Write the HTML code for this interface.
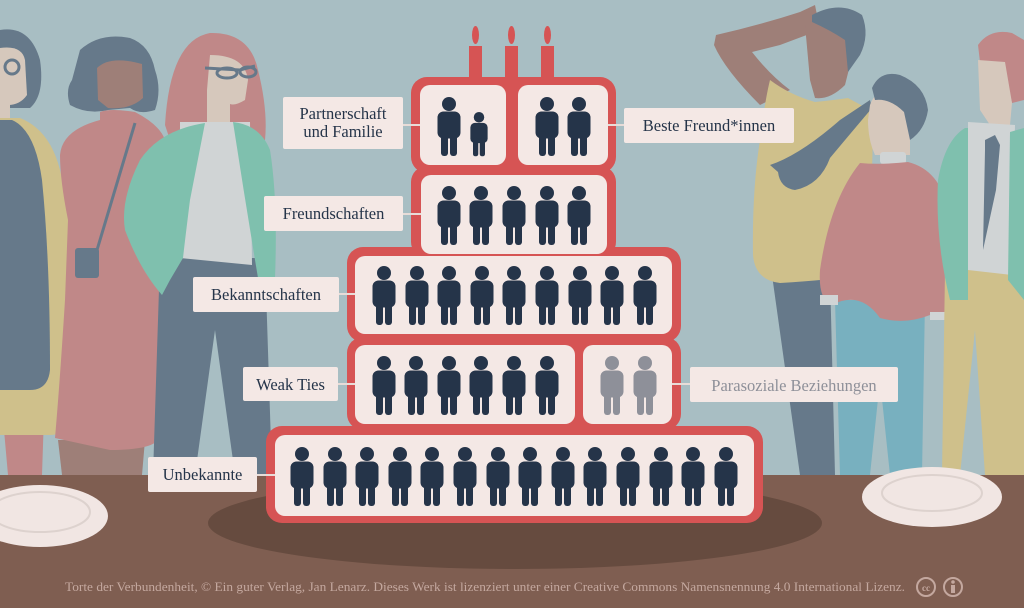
<!DOCTYPE html>
<html><head><meta charset="utf-8"><style>
html,body{margin:0;padding:0;width:1024px;height:608px;overflow:hidden;background:#a8bec3}
svg{display:block}
text{font-family:"Liberation Serif",serif}
</style></head><body>
<svg width="1024" height="608" viewBox="0 0 1024 608" xmlns="http://www.w3.org/2000/svg">
<defs>
<g id="p">
<circle cx="0" cy="-21" r="7"/>
<rect x="-11.5" y="-13.5" width="23" height="27" rx="6"/>
<rect x="-8" y="6" width="7" height="25" rx="3"/>
<rect x="1" y="6" width="7" height="25" rx="3"/>
</g>
</defs>
<rect width="1024" height="608" fill="#a8bec3"/>

<!-- LEFT PEOPLE -->
<!-- person 1 -->
<path d="M0,30 Q30,25 40,60 Q45,95 30,108 L0,108Z" fill="#66798a"/>
<path d="M0,48 Q22,45 25,60 L27,95 Q20,105 8,105 L0,105Z" fill="#d6c8bc"/>
<rect x="0" y="98" width="10" height="25" fill="#d6c8bc"/>
<circle cx="12" cy="67" r="7" fill="none" stroke="#66798a" stroke-width="3"/>
<path d="M0,385 L45,385 L42,475 L8,475Z" fill="#c08888"/>
<path d="M68,210 Q80,260 82,310 Q85,335 78,340 L72,330 L66,215Z" fill="#d6c8bc"/>
<path d="M0,118 L20,118 Q50,130 60,170 Q70,210 70,260 L72,420 Q65,435 50,435 L0,435Z" fill="#cfc08b"/>
<path d="M0,120 L12,120 Q35,130 42,180 Q50,260 50,370 Q48,390 30,390 L0,390Z" fill="#66798a"/>
<!-- person 2 -->
<path d="M58,440 L145,440 L142,475 L62,475Z" fill="#9e7f78"/>
<path d="M100,112 Q110,108 135,112 Q160,125 165,140 L160,250 L158,440 Q150,450 110,450 L55,438 Q60,380 65,300 L68,220 Q60,180 60,155 Q62,130 100,120Z" fill="#c08888"/>
<path d="M80,50 Q100,32 130,38 Q150,45 155,70 Q162,90 155,110 Q140,115 130,108 L108,110 Q88,115 70,105 Q65,90 72,80Z" fill="#66798a"/>
<path d="M97,68 Q110,55 142,64 L143,98 Q130,110 108,108 L98,100Z" fill="#9e7f78"/>
<line x1="135" y1="123" x2="97" y2="250" stroke="#66798a" stroke-width="3"/>
<rect x="75" y="248" width="24" height="30" rx="3" fill="#66798a"/>
<!-- person 3 -->
<path d="M160,258 L265,258 L272,475 L235,475 L215,330 L195,475 L153,475Z" fill="#66798a"/>
<path d="M165,125 Q170,40 210,33 Q250,32 258,70 Q268,110 265,140 L170,140Z" fill="#c08888"/>
<path d="M210,55 Q245,55 248,80 L245,100 Q235,106 230,104 L230,125 L207,125 L207,90Z" fill="#d6c8bc"/>
<path d="M180,122 L250,122 L252,265 L180,258Z" fill="#d0d4d5"/>
<path d="M205,123 L190,200 Q185,240 183,258 L170,280 L162,295 Q140,270 125,230 Q120,200 140,160 Q160,130 205,123Z" fill="#7fc0ae"/>
<path d="M233,122 Q260,125 270,150 Q278,200 275,278 L258,278 Q245,200 233,122Z" fill="#7fc0ae"/>
<path d="M205,68 L240,70 L255,66" fill="none" stroke="#66798a" stroke-width="3"/>
<ellipse cx="227" cy="73" rx="10" ry="5" fill="none" stroke="#66798a" stroke-width="3"/>
<ellipse cx="248" cy="72" rx="8" ry="5" fill="none" stroke="#66798a" stroke-width="3"/>

<!-- RIGHT PEOPLE -->
<!-- person A -->
<path d="M772,275 L830,275 L835,475 L800,475Z" fill="#66798a"/>
<path d="M716,35 Q760,25 800,12 L815,5 L820,30 L780,45 L752,52 Q770,75 790,90 L760,105 Q725,70 714,45Z" fill="#9e7f78"/>
<path d="M805,25 Q830,8 850,25 L850,65 L845,85 Q830,100 815,98 L810,80Z" fill="#9e7f78"/>
<path d="M812,15 Q840,0 862,15 Q870,35 860,55 L848,72 L845,40 Q830,30 812,22Z" fill="#66798a"/>
<path d="M770,80 Q790,95 815,102 Q835,100 848,98 L870,110 Q875,140 870,200 L860,275 Q830,280 780,283 Q755,280 753,255 Q752,190 760,140 Q765,100 770,80Z" fill="#cfc08b"/>
<path d="M770,165 Q800,155 840,120 L870,100 L872,108 Q845,140 830,158 Q820,185 795,190 Q780,188 778,172Z" fill="#66798a"/>
<!-- person B -->
<path d="M835,300 L925,300 L922,475 L890,475 L880,380 L870,475 L840,475Z" fill="#78b0bf"/>
<path d="M870,105 Q875,90 890,92 L910,100 L910,155 L875,155 Q868,140 868,120Z" fill="#d6c8bc"/>
<path d="M872,88 Q880,70 900,75 Q925,85 928,110 Q925,130 910,140 L904,112 Q890,98 875,100Z" fill="#66798a"/>
<rect x="880" y="152" width="26" height="12" rx="3" fill="#d0d4d5"/>
<path d="M860,163 Q880,165 908,162 Q940,170 948,210 Q955,260 955,310 L930,315 Q905,325 880,318 Q860,290 832,305 Q818,300 820,270 Q830,200 860,163Z" fill="#c08888"/>
<rect x="820" y="295" width="18" height="10" fill="#d0d4d5"/>
<rect x="930" y="312" width="22" height="8" fill="#d0d4d5"/>
<!-- person C -->
<path d="M945,270 L1024,270 L1024,475 L985,475 L975,330 L960,475 L942,475Z" fill="#cfc08b"/>
<path d="M978,45 Q990,28 1012,33 L1024,40 L1024,100 L1012,103 L1005,70 Q990,62 980,62Z" fill="#c08888"/>
<path d="M978,60 L1005,62 L1012,103 L1010,125 L990,125 L980,110Z" fill="#d6c8bc"/>
<path d="M968,122 L1015,125 L1012,275 L968,270Z" fill="#d0d4d5"/>
<path d="M985,140 L995,135 L1000,145 L996,190 L983,250 L985,150Z" fill="#66798a"/>
<path d="M965,128 Q945,140 938,180 Q935,240 950,300 L968,300 L968,128Z" fill="#7fc0ae"/>
<path d="M1010,132 L1024,128 L1024,300 L1008,280Z" fill="#7fc0ae"/>

<!-- TABLE -->
<rect x="0" y="475" width="1024" height="133" fill="#7f5e51"/>
<ellipse cx="515" cy="523" rx="307" ry="46" fill="#664b3f"/>
<ellipse cx="40" cy="516" rx="68" ry="31" fill="#f1e6e3"/>
<ellipse cx="40" cy="512" rx="50" ry="20" fill="none" stroke="#ddd2ce" stroke-width="2"/>
<ellipse cx="932" cy="497" rx="70" ry="30" fill="#f1e6e3"/>
<ellipse cx="932" cy="493" rx="50" ry="18" fill="none" stroke="#ddd2ce" stroke-width="2"/>

<!-- CANDLES -->
<g fill="#d65454">
<rect x="469" y="46" width="13" height="35"/><ellipse cx="475.5" cy="35" rx="3.5" ry="9"/>
<rect x="505" y="46" width="13" height="35"/><ellipse cx="511.5" cy="35" rx="3.5" ry="9"/>
<rect x="541" y="46" width="13" height="35"/><ellipse cx="547.5" cy="35" rx="3.5" ry="9"/>
</g>

<!-- CAKE TIERS -->
<g fill="#d65454">
<rect x="411" y="77" width="205" height="96" rx="16"/>
<rect x="411" y="166" width="205" height="92" rx="16"/>
<rect x="347" y="247" width="334" height="95" rx="16"/>
<rect x="347" y="337" width="334" height="93" rx="16"/>
<rect x="266" y="426" width="497" height="97" rx="16"/>
</g>
<g fill="#f4e8e5">
<rect x="420" y="85" width="86" height="80" rx="10"/>
<rect x="518" y="85" width="90" height="80" rx="10"/>
<rect x="421" y="175" width="186" height="79" rx="10"/>
<rect x="355" y="256" width="317" height="78" rx="10"/>
<rect x="355" y="345" width="220" height="79" rx="10"/>
<rect x="583" y="345" width="89" height="79" rx="10"/>
<rect x="275" y="435" width="479" height="81" rx="10"/>
</g>

<!-- FIGURES -->
<g fill="#253449">
<use href="#p" x="449" y="125"/>
<use href="#p" transform="translate(479,133) scale(0.75)"/>
<use href="#p" x="547" y="125"/>
<use href="#p" x="579" y="125"/>
<use href="#p" x="449" y="214"/><use href="#p" x="481" y="214"/><use href="#p" x="514" y="214"/><use href="#p" x="547" y="214"/><use href="#p" x="579" y="214"/>
<use href="#p" x="384" y="294"/><use href="#p" x="417" y="294"/><use href="#p" x="449" y="294"/><use href="#p" x="482" y="294"/><use href="#p" x="514" y="294"/><use href="#p" x="547" y="294"/><use href="#p" x="580" y="294"/><use href="#p" x="612" y="294"/><use href="#p" x="645" y="294"/>
<use href="#p" x="384" y="384"/><use href="#p" x="416" y="384"/><use href="#p" x="449" y="384"/><use href="#p" x="481" y="384"/><use href="#p" x="514" y="384"/><use href="#p" x="547" y="384"/>
<use href="#p" x="302" y="475"/><use href="#p" x="335" y="475"/><use href="#p" x="367" y="475"/><use href="#p" x="400" y="475"/><use href="#p" x="432" y="475"/><use href="#p" x="465" y="475"/><use href="#p" x="498" y="475"/><use href="#p" x="530" y="475"/><use href="#p" x="563" y="475"/><use href="#p" x="595" y="475"/><use href="#p" x="628" y="475"/><use href="#p" x="661" y="475"/><use href="#p" x="693" y="475"/><use href="#p" x="726" y="475"/>
</g>
<g fill="#8e9099">
<use href="#p" x="612" y="384"/><use href="#p" x="645" y="384"/>
</g>

<!-- LABELS -->
<g stroke="#e8dcd8" stroke-width="2">
<line x1="403" y1="125" x2="420" y2="125"/>
<line x1="608" y1="125" x2="624" y2="125"/>
<line x1="403" y1="214" x2="421" y2="214"/>
<line x1="339" y1="294" x2="355" y2="294"/>
<line x1="338" y1="384" x2="355" y2="384"/>
<line x1="672" y1="384" x2="690" y2="384"/>
<line x1="257" y1="475" x2="275" y2="475"/>
</g>
<g fill="#f4e8e5">
<rect x="283" y="97" width="120" height="52" rx="2"/>
<rect x="624" y="108" width="170" height="35" rx="2"/>
<rect x="264" y="196" width="139" height="35" rx="2"/>
<rect x="193" y="277" width="146" height="35" rx="2"/>
<rect x="243" y="367" width="95" height="34" rx="2"/>
<rect x="690" y="367" width="208" height="35" rx="2"/>
<rect x="148" y="457" width="109" height="35" rx="2"/>
</g>
<g fill="#253449" font-size="16.5">
<text x="343" y="119" text-anchor="middle">Partnerschaft</text>
<text x="343" y="137" text-anchor="middle">und Familie</text>
<text x="709" y="131" text-anchor="middle">Beste Freund*innen</text>
<text x="333.5" y="219" text-anchor="middle">Freundschaften</text>
<text x="266" y="300" text-anchor="middle">Bekanntschaften</text>
<text x="290.5" y="390" text-anchor="middle">Weak Ties</text>
<text x="202.5" y="480" text-anchor="middle">Unbekannte</text>
<text x="794" y="391" text-anchor="middle" fill="#8e9099">Parasoziale Beziehungen</text>
</g>

<!-- FOOTER -->
<text x="485" y="591" text-anchor="middle" font-size="12.5" fill="#c4a89f" textLength="840" lengthAdjust="spacingAndGlyphs">Torte der Verbundenheit, © Ein guter Verlag, Jan Lenarz. Dieses Werk ist lizenziert unter einer Creative Commons Namensnennung 4.0 International Lizenz.</text>
<circle cx="926" cy="587" r="9" fill="none" stroke="#c4a89f" stroke-width="2"/>
<text x="926" y="591" text-anchor="middle" font-size="9" font-weight="bold" fill="#c4a89f" font-family="Liberation Sans">cc</text>
<circle cx="953" cy="587" r="9" fill="none" stroke="#c4a89f" stroke-width="2"/>
<circle cx="953" cy="582" r="1.8" fill="#c4a89f"/>
<rect x="951" y="585" width="4" height="8" fill="#c4a89f"/>
</svg>
</body></html>
